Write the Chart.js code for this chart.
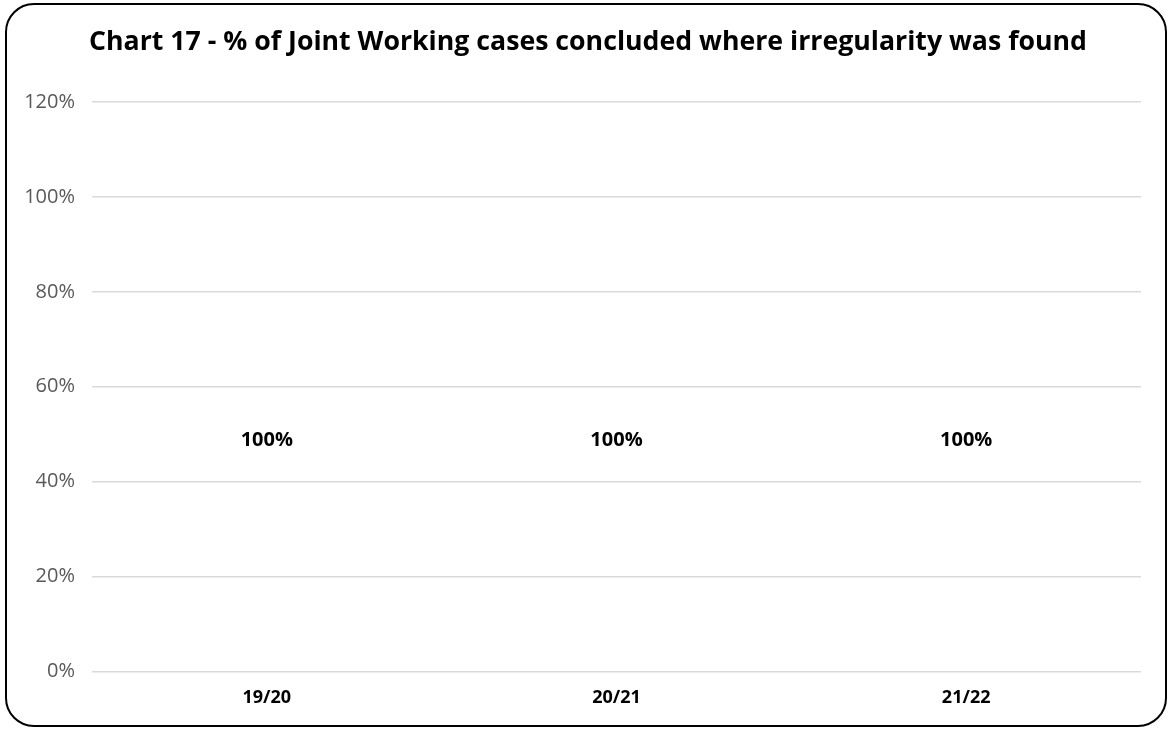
<!DOCTYPE html>
<html>
<head>
<meta charset="utf-8">
<script src="https://cdn.jsdelivr.net/npm/chart.js@4.4.0/dist/chart.umd.min.js"></script>
<style>
  html, body { margin: 0; padding: 0; background: #ffffff; }
  #wrap { width: 1172px; height: 730px; position: relative; }
</style>
</head>
<body>
<div id="wrap"><canvas id="chart17"></canvas></div>
<script>
const anos = ['19/20', '20/21', '21/22'];
const percentuais = [1, 1, 1]; // 100% nos três anos
const rotulos = ['100%', '100%', '100%'];
const titulo = 'Chart 17 - % of Joint Working cases concluded where irregularity was found';

const FONTE = "'Open Sans', 'Liberation Sans', sans-serif";

// moldura arredondada e título
const moldura = {
    id: 'moldura',
    beforeDraw(chart) {
        const c = chart.ctx;
        const x = 6, y = 4, w = chart.width - 12, h = chart.height - 8, r = 28;
        c.save();
        c.fillStyle = '#ffffff';
        c.fillRect(0, 0, chart.width, chart.height);
        c.beginPath();
        c.roundRect(x, y, w, h, r);
        c.lineWidth = 2;
        c.strokeStyle = '#000000';
        c.stroke();

        c.font = "bold 26.7px " + FONTE;
        c.fillStyle = '#000000';
        c.textAlign = 'center';
        c.textBaseline = 'middle';
        c.fillText(titulo, 588, 42);
        c.restore();
    }
};

// rótulos de valor no meio de cada barra
const rotulosValor = {
    id: 'rotulosValor',
    afterDatasetsDraw(chart) {
        const c = chart.ctx;
        const meta = chart.getDatasetMeta(0);
        c.save();
        c.font = "bold 20px " + FONTE;
        c.fillStyle = '#000000';
        c.textAlign = 'center';
        c.textBaseline = 'middle';
        meta.data.forEach((bar, i) => {
            const meio = (bar.y + bar.base) / 2;
            c.fillText(rotulos[i], bar.x, meio + 7);
        });
        c.restore();
    }
};

new Chart(document.getElementById('chart17'), {
    type: 'bar',
    data: {
        labels: anos,
        datasets: [{
            label: '% concluded where irregularity was found',
            data: percentuais,
            backgroundColor: 'rgba(255,255,255,0)',
            borderWidth: 0
        }]
    },
    options: {
        responsive: true,
        maintainAspectRatio: false,
        animation: false,
        layout: {
            padding: { left: 8, right: 31, top: 102, bottom: 5 }
        },
        scales: {
            x: {
                grid: { display: false, drawTicks: false },
                border: { display: false },
                ticks: {
                    color: '#000000',
                    font: { family: FONTE, size: 18, weight: 'bold' },
                    padding: 16
                }
            },
            y: {
                min: 0,
                max: 1.2,
                afterFit: scale => { scale.width = 84; },
                grid: { color: '#d9d9d9', lineWidth: 1.5, drawTicks: false },
                border: { display: false },
                ticks: {
                    stepSize: 0.2,
                    color: '#595959',
                    font: { family: FONTE, size: 20 },
                    padding: 17,
                    callback: v => Math.round(v * 100) + '%'
                }
            }
        },
        plugins: {
            legend: { display: false },
            tooltip: { enabled: false },
            title: { display: false }
        }
    },
    plugins: [moldura, rotulosValor]
});
</script>
</body>
</html>
